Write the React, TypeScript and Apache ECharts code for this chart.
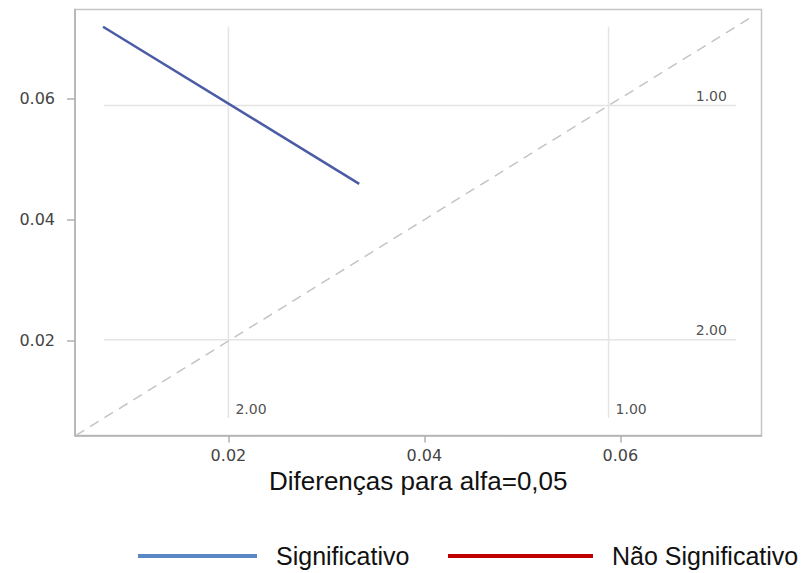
import React, { useEffect, useRef } from "react";
import * as echarts from "echarts";

// Axis ranges (value units)
const xRange = [0.00434, 0.07441];
const yRange = [0.00442, 0.07464];
const tickValues = [0.02, 0.04, 0.06];

// Diagonal reference (y = x)
const diagonal = [
  [0.0044, 0.0044],
  [0.0737, 0.0737],
];

// "Significativo" line
const sigX = [0.0072, 0.03335];
const sigY = [0.0718, 0.0459];

// Reference lines
const refStart = 0.0073;
const refEnd = 0.0718;
const refVertical = [0.02, 0.0588];
const refVerticalLabels = ["2.00", "1.00"];
const refHorizontal = [0.0202, 0.0588];
const refHorizontalLabels = ["2.00", "1.00"];

const legendNames = ["Significativo", "Não Significativo"];
const xAxisTitle = "Diferenças para alfa=0,05";

export default function App() {
  const ref = useRef<HTMLDivElement>(null);

  useEffect(() => {
    document.body.style.margin = "0";
    if (!ref.current) return;
    const chart = echarts.init(ref.current, undefined, { renderer: "svg" });

    const refLineStyle = { color: "#e4e4e4", width: 1.5 };
    const refSeries: any[] = [];
    refVertical.forEach((x) => {
      refSeries.push({
        type: "line",
        data: [
          [x, refStart],
          [x, refEnd],
        ],
        symbol: "none",
        lineStyle: refLineStyle,
        silent: true,
        z: 1,
      });
    });
    refHorizontal.forEach((y) => {
      refSeries.push({
        type: "line",
        data: [
          [refStart, y],
          [refEnd, y],
        ],
        symbol: "none",
        lineStyle: refLineStyle,
        silent: true,
        z: 1,
      });
    });

    const refLabelFont = {
      fontFamily: "'DejaVu Sans', sans-serif",
      fontSize: 14,
      color: "#222",
    };

    const hLabelData = refHorizontal.map((y, i) => ({
      value: [refEnd, y],
      name: refHorizontalLabels[i],
    }));
    const vLabelData = refVertical.map((x, i) => ({
      value: [x, refStart],
      name: refVerticalLabels[i],
    }));

    const legendText = {
      fontFamily: "'Liberation Sans', Arial, sans-serif",
      fontSize: 25,
      lineHeight: 28,
      color: "#111",
      padding: [0, 0, 0, 14],
    };

    const option: any = {
      animation: false,
      grid: {
        left: 75,
        top: 9.5,
        width: 686.5,
        height: 426,
        show: true,
        borderColor: "#c6c6c6",
        borderWidth: 1.5,
        backgroundColor: "transparent",
        containLabel: false,
      },
      legend: [
        {
          left: 133,
          top: 537,
          icon: "rect",
          itemWidth: 119,
          itemHeight: 4,
          selectedMode: false,
          data: [{ name: legendNames[0], itemStyle: { color: "#5a87c5" } }],
          textStyle: legendText,
        },
        {
          left: 443,
          top: 537,
          icon: "rect",
          itemWidth: 145,
          itemHeight: 4,
          selectedMode: false,
          data: [{ name: legendNames[1], itemStyle: { color: "#c00000" } }],
          textStyle: legendText,
        },
      ],
      xAxis: {
        type: "value",
        min: xRange[0],
        max: xRange[1],
        name: xAxisTitle,
        nameLocation: "middle",
        nameGap: 32,
        nameTextStyle: {
          fontFamily: "'Liberation Sans', Arial, sans-serif",
          fontSize: 26,
          color: "#111",
        },
        axisLine: { show: true, onZero: false, lineStyle: { color: "#b0b0b0", width: 1.5 } },
        axisTick: {
          show: true,
          length: 7,
          customValues: tickValues,
          lineStyle: { color: "#b0b0b0", width: 1.5 },
        },
        axisLabel: {
          customValues: tickValues,
          margin: 12,
          fontFamily: "'DejaVu Sans', sans-serif",
          fontSize: 16,
          color: "#444",
          formatter: (v: number) => v.toFixed(2),
        },
        splitLine: { show: false },
      },
      yAxis: {
        type: "value",
        min: yRange[0],
        max: yRange[1],
        axisLine: { show: true, onZero: false, lineStyle: { color: "#b0b0b0", width: 1.5 } },
        axisTick: {
          show: true,
          length: 8,
          customValues: tickValues,
          lineStyle: { color: "#b0b0b0", width: 1.5 },
        },
        axisLabel: {
          customValues: tickValues,
          margin: 20,
          fontFamily: "'DejaVu Sans', sans-serif",
          fontSize: 16,
          color: "#444",
          formatter: (v: number) => v.toFixed(2),
        },
        splitLine: { show: false },
      },
      series: [
        ...refSeries,
        {
          type: "line",
          data: diagonal,
          symbol: "none",
          silent: true,
          lineStyle: { color: "#c4c4c4", width: 1.5, type: [10, 7] },
          z: 2,
        },
        {
          name: legendNames[0],
          type: "line",
          data: sigX.map((x, i) => [x, sigY[i]]),
          symbol: "none",
          lineStyle: { color: "#4b5ca6", width: 2.5 },
          itemStyle: { color: "#5a87c5" },
          z: 3,
        },
        {
          name: legendNames[1],
          type: "line",
          data: [],
          symbol: "none",
          lineStyle: { color: "#c00000", width: 2.5 },
          itemStyle: { color: "#c00000" },
        },
        {
          type: "scatter",
          data: hLabelData,
          symbolSize: 0,
          silent: true,
          label: {
            show: true,
            position: [-9, -10],
            align: "right",
            verticalAlign: "middle",
            formatter: (p: any) => p.name,
            ...refLabelFont,
          },
          z: 4,
        },
        {
          type: "scatter",
          data: vLabelData,
          symbolSize: 0,
          silent: true,
          label: {
            show: true,
            position: [7, -9],
            align: "left",
            verticalAlign: "middle",
            formatter: (p: any) => p.name,
            ...refLabelFont,
          },
          z: 4,
        },
      ],
    };

    chart.setOption(option);
    return () => chart.dispose();
  }, []);

  return <div ref={ref} style={{ width: 804, height: 573 }} />;
}
